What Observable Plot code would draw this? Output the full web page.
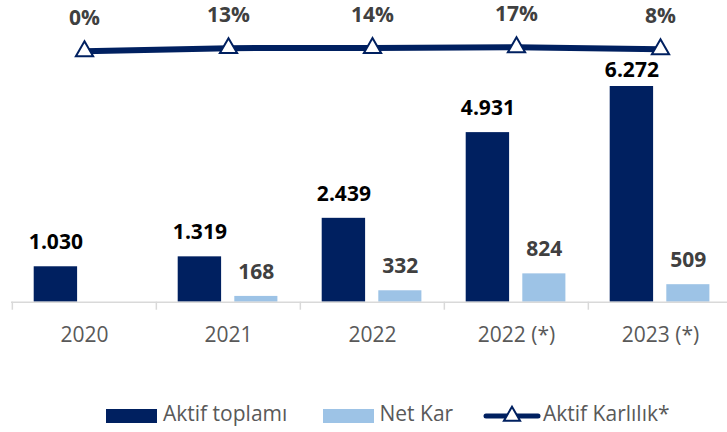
<!DOCTYPE html>
<html><head><meta charset="utf-8">
<script src="https://cdn.jsdelivr.net/npm/d3@7"></script>
<script src="https://cdn.jsdelivr.net/npm/@observablehq/plot@0.6"></script>
<style>
body{margin:0;background:#fff;font-family:"Open Sans",sans-serif;}
#wrap{position:relative;width:727px;height:390px;}
#wrap svg{position:absolute;left:0;top:0;}
#legend{position:relative;width:727px;height:42px;color:#595959;font-size:21px;}
.item{position:absolute;top:0;height:42px;display:flex;align-items:center;}
.sw{display:inline-block;width:51px;height:14px;margin-right:6px;margin-top:10px;}
.lbl{line-height:1;margin-top:4px;}
</style></head><body>
<div id="wrap"></div>
<div id="legend"></div>
<script>
const categories = ["2020", "2021", "2022", "2022 (*)", "2023 (*)"];
const aktifToplami = [1030, 1319, 2439, 4931, 6272];
const netKar = [null, 168, 332, 824, 509];
const aktifKarlilik = [0, 13, 14, 17, 8];
const seriesNames = ["Aktif toplamı", "Net Kar", "Aktif Karlılık*"];

const DARK = "#002060", LIGHT = "#9DC3E6";
const FONT = "'Open Sans', sans-serif";
const fmt = d3.formatLocale({decimal: ",", thousands: ".", grouping: [3], currency: ["", ""]}).format(",d");

const rows = categories.map((c, i) => ({category: c, aktif: aktifToplami[i], net: netKar[i], karlilik: aktifKarlilik[i]}));
const maxAktif = d3.max(aktifToplami);
const xRange = [11, 732.6];
const half = (xRange[1] - xRange[0]) / categories.length / 2;

const main = Plot.plot({
  width: 727, height: 390,
  marginLeft: 11, marginRight: 0, marginTop: 86, marginBottom: 88.3,
  x: {type: "band", domain: categories, range: xRange, padding: 0, label: null},
  y: {domain: [0, maxAktif], axis: null},
  style: {fontFamily: FONT, background: "transparent", overflow: "visible"},
  marks: [
    Plot.barY(rows, {x: "category", y: "aktif", fill: DARK, insetLeft: 21.7, insetRight: 78.9}),
    Plot.barY(rows.filter(d => d.net != null), {x: "category", y: "net", fill: LIGHT, insetLeft: 78.3, insetRight: 22.6}),
    Plot.ruleY([0], {stroke: "#D9D9D9", strokeWidth: 1.5}),
    Plot.axisX({tickSize: 8, tickFormat: () => "", dx: -half, stroke: "#D9D9D9", strokeWidth: 1.5, label: null}),
    Plot.axisX({tickSize: 0, tickPadding: 25, fontSize: 21, fill: "#595959", label: null}),
    Plot.text(rows.filter(d => d.aktif < maxAktif), {x: "category", y: "aktif", text: d => fmt(d.aktif), dx: 43.55 - half, dy: -17.5, lineAnchor: "bottom", fontSize: 21, fontWeight: "bold", fill: "#000"}),
    Plot.text(rows.filter(d => d.aktif === maxAktif), {x: "category", y: "aktif", text: d => fmt(d.aktif), dx: 43.55 - half, dy: -10, lineAnchor: "bottom", fontSize: 21, fontWeight: "bold", fill: "#000"}),
    Plot.text(rows.filter(d => d.net != null), {x: "category", y: "net", text: d => fmt(d.net), dx: 100 - half, dy: -17.5, lineAnchor: "bottom", fontSize: 21, fontWeight: "bold", fill: "#404040"})
  ]
});

const line = Plot.plot({
  width: 727, height: 390,
  marginLeft: 11, marginRight: 0, marginTop: 0, marginBottom: 0,
  x: {type: "band", domain: categories, range: xRange, padding: 0, axis: null},
  y: {domain: [0, 17], range: [50.7, 46.7], axis: null},
  style: {fontFamily: FONT, background: "transparent", overflow: "visible"},
  marks: [
    Plot.line(rows, {x: "category", y: "karlilik", stroke: DARK, strokeWidth: 6}),
    Plot.dot(rows, {x: "category", y: "karlilik", symbol: "triangle", r: 6.4, fill: "white", stroke: DARK, strokeWidth: 2}),
    Plot.text(rows, {x: "category", y: "karlilik", text: d => d.karlilik + "%", dy: -26, lineAnchor: "bottom", fontSize: 21, fontWeight: "bold", fill: "#404040"})
  ]
});

document.getElementById("wrap").append(main, line);

const legend = document.getElementById("legend");
const lefts = [106, 322.5, 483];
legend.innerHTML =
  `<div class="item" style="left:${lefts[0]}px"><span class="sw" style="background:${DARK}"></span><span class="lbl">${seriesNames[0]}</span></div>` +
  `<div class="item" style="left:${lefts[1]}px"><span class="sw" style="background:${LIGHT}"></span><span class="lbl">${seriesNames[1]}</span></div>` +
  `<div class="item" style="left:${lefts[2]}px"><svg width="58" height="42" style="margin-right:2px"><line x1="3" x2="55" y1="26" y2="26" stroke="${DARK}" stroke-width="5" stroke-linecap="round"/><path d="${d3.symbol(d3.symbolTriangle, Math.PI * 6 * 6)()}" transform="translate(29,26)" fill="white" stroke="${DARK}" stroke-width="2"/></svg><span class="lbl">${seriesNames[2]}</span></div>`;
</script>
</body></html>
